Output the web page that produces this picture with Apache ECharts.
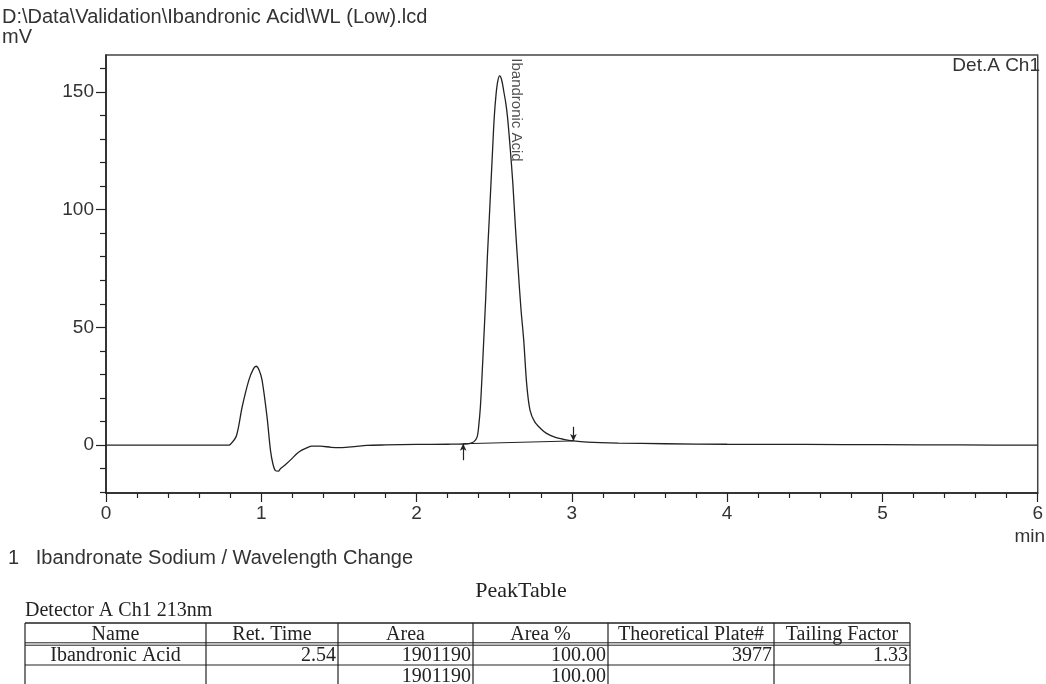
<!DOCTYPE html>
<html><head><meta charset="utf-8">
<script src="https://cdn.jsdelivr.net/npm/echarts@6/dist/echarts.min.js"></script>
<style>html,body{margin:0;padding:0;background:#fff}#c{width:1046px;height:684px}</style>
</head><body><div id="c"></div>
<script>
const filePath = 'D:\\Data\\Validation\\Ibandronic Acid\\WL (Low).lcd';
const yUnit = 'mV';
const xUnit = 'min';
const channelLabel = 'Det.A Ch1';
const methodTitle = '1   Ibandronate Sodium / Wavelength Change';
const tableTitle = 'PeakTable';
const detectorLabel = 'Detector A Ch1 213nm';

const timeMin = [0,0.5,0.78,0.80,0.84,0.877,0.92,0.95,0.967,0.985,1.005,1.037,1.059,1.075,1.091,1.11,1.123,1.16,1.197,1.23,1.261,1.30,1.325,1.38,1.45,1.52,1.6,1.68,1.8,2.0,2.2,2.30,2.345,2.37,2.39,2.40,2.411,2.422,2.4326,2.445,2.456,2.468,2.479,2.49,2.50,2.512,2.523,2.535,2.548,2.562,2.575,2.586,2.603,2.62,2.637,2.655,2.672,2.690,2.709,2.730,2.76,2.80,2.837,2.89,2.946,3.01,3.1,3.3,3.6,4.0,4.5,5.0,5.5,6.0];
const signalMv = [0,0,0,0.3,4,16.3,27.6,32.5,33.5,32,27.6,12,-2.1,-8,-10.8,-11,-10,-8,-5.7,-3.5,-2.1,-0.9,-0.4,-0.4,-0.9,-1,-0.6,-0.1,0.1,0.3,0.4,0.5,0.8,1.5,3.5,8,16.3,30,44.6,62,80,96,111,126,139,149,154.5,156.7,155,150,145,139,126,111,92,74,58,44.6,26,15,10,7,5,3.4,2.5,1.8,1.3,0.9,0.6,0.4,0.3,0.2,0.1,0];

const peakName = 'Ibandronic Acid';
const peakRetTime = 2.54;
const integStart = [2.30, 0.6];
const integEnd = [3.01, 1.8];

const yMajorTicks = [0, 50, 100, 150];
const yMinorTicks = [-20, -10, 10, 20, 30, 40, 60, 70, 80, 90, 110, 120, 130, 140, 160];

const tableHeader = ['Name', 'Ret. Time', 'Area', 'Area %', 'Theoretical Plate#', 'Tailing Factor'];
const tableRow1 = ['Ibandronic Acid', '2.54', '1901190', '100.00', '3977', '1.33'];
const tableRow2 = ['', '', '1901190', '100.00', '', ''];

const SANS = '"Liberation Sans", Arial, sans-serif';
const SERIF = '"Liberation Serif", "Times New Roman", serif';
const INK = '#333';

const chart = echarts.init(document.getElementById('c'), null, {renderer: 'canvas'});

// table graphics
const colX = [25, 206, 338, 473, 608, 774, 910];
const rowY = [623, 644, 665, 686];
const g = [];
function line(x1, y1, x2, y2, w) {
  g.push({type: 'line', shape: {x1, y1, x2, y2}, style: {stroke: '#222', lineWidth: w || 1}, silent: true});
}
function txt(x, y, s, opts) {
  g.push({type: 'text', x, y, silent: true, style: Object.assign({text: s, fill: '#222', font: '16px ' + SANS, align: 'left', verticalAlign: 'middle'}, opts || {})});
}
txt(2, 17, filePath, {font: '20px ' + SANS, fill: INK});
txt(2, 37, yUnit, {font: '20px ' + SANS, fill: INK});
txt(1040, 66, channelLabel, {font: '19px ' + SANS, fill: INK, align: 'right'});
txt(1045, 537, xUnit, {font: '19px ' + SANS, fill: INK, align: 'right'});
txt(8, 558, methodTitle, {font: '20px ' + SANS, fill: INK});
txt(521, 591, tableTitle, {font: '22px ' + SERIF, align: 'center'});
txt(25, 611, detectorLabel, {font: '20px ' + SERIF});

line(colX[0], rowY[0], colX[6], rowY[0], 1.5);
line(colX[0], rowY[1] - 1.2, colX[6], rowY[1] - 1.2, 1);
line(colX[0], rowY[1] + 1.2, colX[6], rowY[1] + 1.2, 1);
line(colX[0], rowY[2], colX[6], rowY[2], 1);
line(colX[0], rowY[3], colX[6], rowY[3], 1);
colX.forEach(x => line(x, rowY[0], x, rowY[3], 1.2));
[tableHeader, tableRow1, tableRow2].forEach((row, r) => {
  const cy = (rowY[r] + rowY[r + 1]) / 2 + 1;
  row.forEach((s, c) => {
    if (!s) return;
    if (r === 0 || c === 0) {
      txt((colX[c] + colX[c + 1]) / 2, cy, s, {font: '20px ' + SERIF, align: 'center'});
    } else {
      txt(colX[c + 1] - 2, cy, s, {font: '20px ' + SERIF, align: 'right'});
    }
  });
});

const option = {
  animation: false,
  backgroundColor: '#fff',
  grid: {left: 106, right: 1, top: 55, bottom: 191, show: true, borderColor: '#444', borderWidth: 1.5, backgroundColor: 'transparent'},
  xAxis: {
    type: 'value', min: 0, max: 6, interval: 1, position: 'bottom',
    axisLine: {onZero: false, lineStyle: {color: '#222', width: 1.5}},
    axisTick: {length: 9, lineStyle: {color: '#222', width: 1.2}},
    minorTick: {show: true, splitNumber: 5, length: 5, lineStyle: {color: '#222', width: 1.2}},
    splitLine: {show: false},
    axisLabel: {fontSize: 19, fontFamily: SANS, color: INK, margin: 11}
  },
  yAxis: [{
    type: 'value', min: -20.3, max: 165.6, position: 'left',
    axisLine: {show: true, onZero: false, lineStyle: {color: '#222', width: 1.5}},
    axisTick: {show: true, customValues: yMajorTicks, length: 10, lineStyle: {color: '#222', width: 1.2}},
    axisLabel: {customValues: yMajorTicks, fontSize: 19, fontFamily: SANS, color: INK, margin: 12},
    splitLine: {show: false}
  }, {
    type: 'value', min: -20.3, max: 165.6, position: 'left',
    axisLine: {show: false},
    axisTick: {show: true, customValues: yMinorTicks, length: 6, lineStyle: {color: '#222', width: 1.2}},
    axisLabel: {show: false},
    splitLine: {show: false}
  }],
  series: [{
    type: 'line', name: 'signal', data: timeMin.map((t, i) => [t, signalMv[i]]),
    showSymbol: false, symbol: 'none', smooth: 0.3, silent: true,
    lineStyle: {color: '#222', width: 1.3}
  }, {
    type: 'line', name: 'integration', data: [integStart, integEnd],
    showSymbol: false, symbol: 'none', silent: true,
    lineStyle: {color: '#222', width: 1},
    markLine: {
      silent: true, symbol: ['none', 'arrow'], symbolSize: [5, 7],
      lineStyle: {color: '#222', width: 1.2, type: 'solid'}, label: {show: false},
      data: [
        [{coord: [integStart[0], integStart[1] - 7]}, {coord: integStart}],
        [{coord: [integEnd[0], integEnd[1] + 6]}, {coord: integEnd}]
      ]
    }
  }, {
    type: 'scatter', name: 'peakLabel', symbolSize: 0, silent: true,
    data: [{name: peakName, value: [peakRetTime + 0.1, 164.2]}],
    label: {show: true, formatter: '{b}', rotate: -90, position: 'inside', align: 'left', verticalAlign: 'middle',
      fontSize: 15, fontFamily: SANS, color: '#222'}
  }],
  graphic: g
};
chart.setOption(option);
</script>
</body></html>
